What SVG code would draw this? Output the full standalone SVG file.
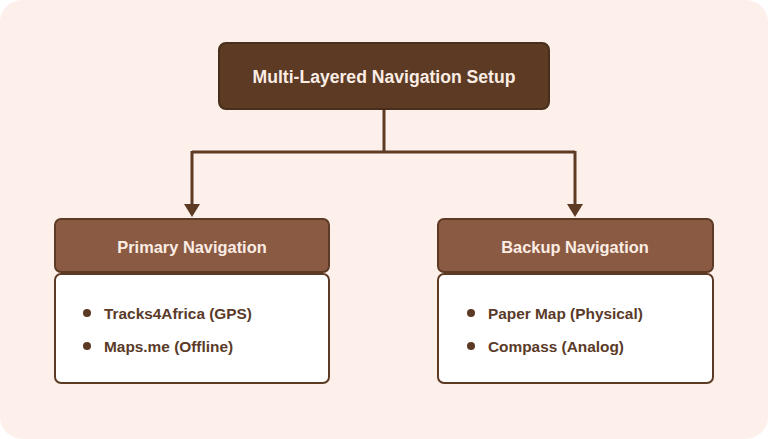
<svg xmlns="http://www.w3.org/2000/svg" width="768" height="439" viewBox="0 0 768 439">
<style>
.t{font-family:"Liberation Sans",Arial,sans-serif;font-weight:bold}
.title{font-size:17.6px;fill:#FBEDE4}
.hdr{font-size:16.4px;fill:#FBEDE4}
.item{font-size:15.4px;fill:#5A3A28}
.conn{stroke:#5C3A24;stroke-width:3;fill:none}
.head{fill:#8B5A42;stroke:#5C3A24;stroke-width:2}
.body{fill:#FFFFFF;stroke:#5C3A24;stroke-width:2}
.dot{fill:#5C3A24}
</style>
<rect x="0" y="0" width="768" height="439" fill="#FFFFFF"/>
<rect x="0" y="0" width="768" height="439" rx="22" fill="#FDF0EA"/>
<g id="connectors">
<path class="conn" d="M384 109 V152 M192 152 H575 M192 151 V206 M575 151 V206"/>
<polygon points="184,204 200,204 192,217" fill="#5C3A24"/>
<polygon points="567,204 583,204 575,217" fill="#5C3A24"/>
</g>
<g id="root">
<rect x="219" y="43" width="330" height="66" rx="7" fill="#5C3A24" stroke="#4A2E1C" stroke-width="2"/>
<text class="t title" x="384" y="83" text-anchor="middle">Multi-Layered Navigation Setup</text>
</g>
<g id="primary">
<rect class="head" x="55" y="219" width="274" height="53" rx="6"/>
<text class="t hdr" x="192" y="253" text-anchor="middle">Primary Navigation</text>
<rect class="body" x="55" y="274" width="274" height="109" rx="6"/>
<circle class="dot" cx="87" cy="313" r="4"/>
<text class="t item" x="104" y="318.5">Tracks4Africa (GPS)</text>
<circle class="dot" cx="87" cy="346" r="4"/>
<text class="t item" x="104" y="351.5">Maps.me (Offline)</text>
</g>
<g id="backup">
<rect class="head" x="438" y="219" width="275" height="53" rx="6"/>
<text class="t hdr" x="575" y="253" text-anchor="middle">Backup Navigation</text>
<rect class="body" x="438" y="274" width="275" height="109" rx="6"/>
<circle class="dot" cx="471" cy="313" r="4"/>
<text class="t item" x="488" y="318.5">Paper Map (Physical)</text>
<circle class="dot" cx="471" cy="346" r="4"/>
<text class="t item" x="488" y="351.5">Compass (Analog)</text>
</g>
</svg>
